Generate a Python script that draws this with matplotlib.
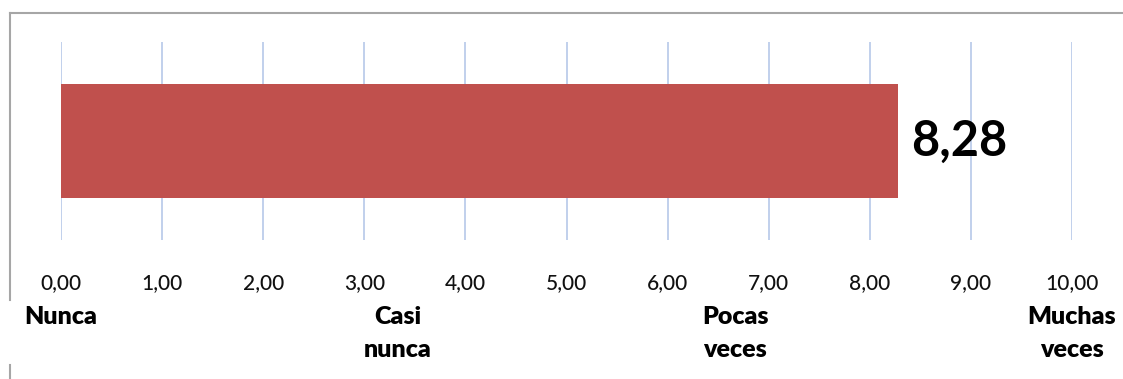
import matplotlib.pyplot as plt
from matplotlib.lines import Line2D

# data
value = 8.28
value_label = "8,28"
xticks = [0, 1, 2, 3, 4, 5, 6, 7, 8, 9, 10]
xtick_labels = ["0,00", "1,00", "2,00", "3,00", "4,00", "5,00",
                "6,00", "7,00", "8,00", "9,00", "10,00"]
scale_pos = [0, 10 / 3, 20 / 3, 10]
scale_labels = ["Nunca", "Casi\nnunca", "Pocas\nveces", "Muchas\nveces"]

plt.rcParams['font.family'] = ['Lato', 'DejaVu Sans']

W, H = 1123, 379
fig = plt.figure(figsize=(W / 100, H / 100), dpi=100)

# chart border (gray frame, cut off on the right)
border = dict(color='#a6a6a6', lw=1.5, transform=fig.transFigure)
fig.add_artist(Line2D([10 / W, 1.01], [1 - 13 / H] * 2, **border))
fig.add_artist(Line2D([10 / W] * 2, [1 - 13 / H, 1 - 300 / H], **border))
fig.add_artist(Line2D([10 / W] * 2, [1 - 365 / H, 0], **border))

left, right = 61 / W, 1072 / W
top, bottom = 1 - 42 / H, 1 - 240 / H
ax = fig.add_axes([left, bottom, right - left, top - bottom])

ax.barh([0], [value], height=0.58, color='#c0504d', zorder=2)
ax.text(value + 0.13, 0, value_label, va='center', ha='left',
        fontsize=35, fontweight='bold', color='black')

ax.set_xlim(0, 10)
ax.set_ylim(-0.5, 0.5)
ax.set_xticks(xticks)
ax.set_xticklabels(xtick_labels, fontsize=15, color='#111111', fontweight='medium')
ax.tick_params(axis='x', length=0, pad=24)
ax.set_yticks([])
ax.grid(axis='x', color='#bccdea', lw=1.3, zorder=1)
for s in ax.spines.values():
    s.set_visible(False)

# scale labels under the tick values
for x, lab in zip(scale_pos, scale_labels):
    ax.text(x, -0.835, lab, ha='center', va='top', fontsize=18, fontweight='heavy',
            linespacing=1.6)

fig.savefig('out.png', dpi=100)
